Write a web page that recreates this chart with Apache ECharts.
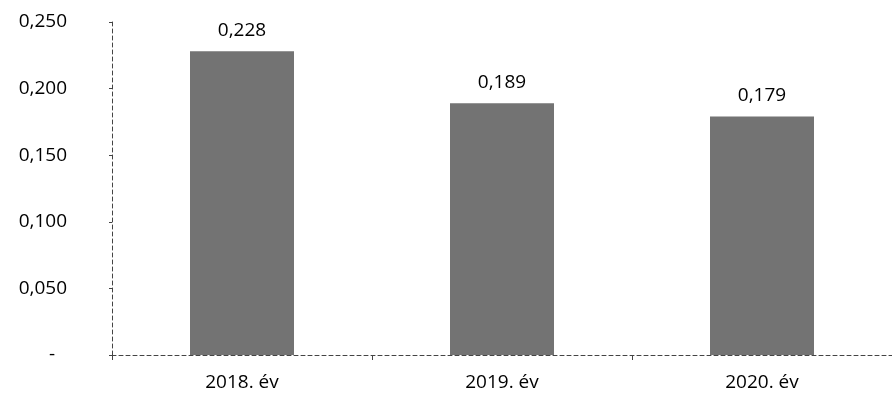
<!DOCTYPE html>
<html><head><meta charset="utf-8">
<script src="https://cdn.jsdelivr.net/npm/echarts@6/dist/echarts.min.js"></script>
<style>html,body{margin:0;padding:0;background:#fff}#c{width:892px;height:409px}</style>
</head><body><div id="c"></div>
<script>
const categories = ['2018. év', '2019. év', '2020. év'];
const values = [0.228, 0.189, 0.179];
const yTicks = [0, 0.05, 0.10, 0.15, 0.20, 0.25];

const fmt = v => v === 0 ? '-' : v.toFixed(3).replace('.', ',');
const font = 'Open Sans';
const chart = echarts.init(document.getElementById('c'));
chart.setOption({
  animation: false,
  grid: {left: 112, right: -13, top: 22, bottom: 54},
  xAxis: {
    type: 'category', data: categories,
    axisLine: {lineStyle: {color: '#444', type: [4, 3], width: 1}},
    axisTick: {show: true, length: 5, lineStyle: {color: '#444'}},
    axisLabel: {color: '#000', fontSize: 19, fontFamily: font, margin: 18}
  },
  yAxis: {
    type: 'value', min: yTicks[0], max: yTicks[yTicks.length - 1], interval: 0.05,
    splitLine: {show: false},
    axisLine: {show: true, lineStyle: {color: '#444', type: [4, 3], width: 1}},
    axisTick: {show: true, length: 3, lineStyle: {color: '#444'}},
    axisLabel: {
      color: '#000', fontSize: 19, fontFamily: font, margin: 45,
      formatter: v => v === 0 ? '{z|-}' : fmt(v),
      rich: {z: {fontSize: 19, fontFamily: font, color: '#000', padding: [0, 12, 0, 0]}}
    }
  },
  series: [{
    type: 'bar', data: values, barWidth: '40%',
    itemStyle: {color: '#737373'},
    label: {show: true, position: 'top', distance: 11, color: '#000', fontSize: 19, fontFamily: font,
      formatter: p => fmt(p.value)}
  }]
});
</script></body></html>
